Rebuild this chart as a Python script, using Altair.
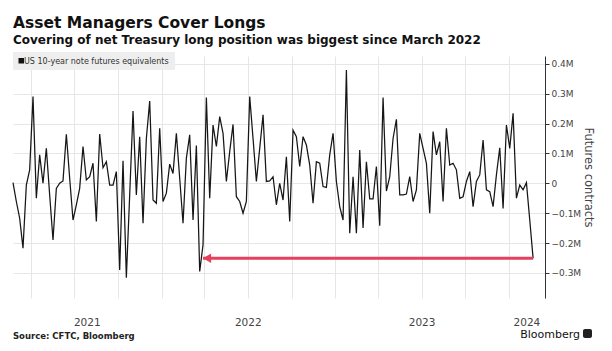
import altair as alt
import pandas as pd

# ---- data (thousands of contracts, weekly) ----
END_DATE = "2024-02-20"
values_k = [
    2, -61, -117, -217, -6, 45, 290, -50, 95, 0, 117, -39, -190, -17, 0, 8, 164, 17, -123, -72, -17, 123, 11, 22, 67, -128,
    165, 52, 72, -6, -6, 39, -290, 75, -316, -39, 242, -39, 156, -134, 150, 275, -56, -67, 184, -61, -33, 64, 33, 167, 17, -134,
    84, 162, -123, 126, -295, -206, 287, -50, 195, 123, 223, 167, 6, 106, 197, -45, -61, -100, -61, 290, 150, 6, 117, 229, 6, 8,
    22, -72, 0, -56, 89, -128, 178, 156, 56, 156, 128, 61, -67, 72, 67, -11, -14, 95, 167, 6, -78, -123, 379, -167, 22, -167,
    111, -150, 72, -52, -52, 56, -142, 287, -26, 22, 150, 214, -39, -39, -36, 22, -61, -22, 167, 117, 67, -100, 173, 95, 139, -61,
    184, 61, 67, 45, -50, -45, 6, 39, -78, 6, 28, 145, -22, -28, -78, 28, 119, -84, 195, 117, 234, -50, -6, -22, 2, -123, -251,
]
y_ticks = [-0.3, -0.2, -0.1, 0, 0.1, 0.2, 0.3, 0.4]
years = [2021, 2022, 2023, 2024]
title = "Asset Managers Cover Longs"
subtitle = "Covering of net Treasury long position was biggest since March 2022"
legend_label = "US 10-year note futures equivalents"
source = "Source: CFTC, Bloomberg"
arrow_start_index = 57  # week after the March 2022 low

dates = pd.date_range(end=END_DATE, periods=len(values_k), freq="7D")
df = pd.DataFrame({"date": dates.strftime("%Y-%m-%d"), "value": [v / 1000 for v in values_k]})

dom_start = pd.Timestamp("2021-02-23")
dom_end = pd.Timestamp("2024-03-16")

# year label centers within visible span
yl = []
for y in years:
    a = max(dom_start, pd.Timestamp(f"{y}-01-01"))
    b = min(dom_end, pd.Timestamp(f"{y+1}-01-01"))
    yl.append({"date": (a + (b - a) / 2).strftime("%Y-%m-%d"), "label": str(y)})
year_df = pd.DataFrame(yl)

arrow_df = pd.DataFrame({
    "date": [df["date"].iloc[arrow_start_index], df["date"].iloc[-1]],
    "value": [df["value"].iloc[-1]] * 2,
})
head_df = arrow_df.iloc[[0]]

quarters = [alt.DateTime(year=y, month=m, date=1, utc=True)
            for y in [2021, 2022, 2023, 2024] for m in [1, 4, 7, 10]
            if dom_start < pd.Timestamp(f"{y}-{m:02d}-01") < dom_end]

xscale = alt.Scale(type="utc",
                   domain=[alt.DateTime(year=2021, month=2, date=23, utc=True),
                           alt.DateTime(year=2024, month=3, date=16, utc=True)])
yscale = alt.Scale(domain=[-0.384, 0.426], nice=False, zero=False)

FONT = "DejaVu Sans"

x_enc = alt.X("date:T", scale=xscale,
              axis=alt.Axis(values=quarters, grid=True, gridColor="#e6e6e6", labels=False,
                            ticks=False, domain=False, title=None))
y_enc = alt.Y("value:Q", scale=yscale,
              axis=alt.Axis(orient="right", values=y_ticks, grid=True, gridColor="#e6e6e6",
                            domain=True, domainColor="#333333", tickColor="#333333", tickSize=4,
                            labelFontSize=9, labelColor="#444444", labelFont=FONT, labelPadding=2,
                            labelExpr="datum.value == 0 ? '0' : format(datum.value, '.1f') + 'M'",
                            title="Futures contracts", titleFontSize=11.5, titleFont=FONT,
                            titleFontWeight="normal", titleColor="#444444", titleAngle=90,
                            titlePadding=2))

line = alt.Chart(df).mark_line(color="#161616", strokeWidth=1.25).encode(x=x_enc, y=y_enc)

arrow = alt.Chart(arrow_df).mark_line(color="#e5405e", strokeWidth=3).encode(x=x_enc, y=y_enc)
head = alt.Chart(head_df).mark_point(shape="triangle-left", filled=True, color="#e5405e",
                                     size=90, opacity=1, xOffset=4).encode(x=x_enc, y=y_enc)

year_text = alt.Chart(year_df).mark_text(fontSize=10.5, font=FONT, color="#444444",
                                         align="center", baseline="alphabetic").encode(
    x=x_enc,
    y=alt.value(269.5),
    text="label:N",
)

one = pd.DataFrame({"k": [0]})
base = alt.Chart(one)

legend_box = base.mark_rect(color="#eeeeee").encode(
    x=alt.value(0), x2=alt.value(162), y=alt.value(-4), y2=alt.value(14))
legend_sq = base.mark_rect(color="#111111").encode(
    x=alt.value(5.5), x2=alt.value(11), y=alt.value(2), y2=alt.value(7.5))
legend_txt = base.mark_text(fontSize=8, font=FONT, color="#333333", align="left",
                            baseline="alphabetic").encode(
    x=alt.value(11), y=alt.value(8), text=alt.value(legend_label))

title_txt = base.mark_text(fontSize=15.5, font=FONT, fontWeight="bold", color="#111111",
                           align="left", baseline="alphabetic").encode(
    x=alt.value(0), y=alt.value(-28), text=alt.value(title))
sub_txt = base.mark_text(fontSize=12, font=FONT, fontWeight="bold", color="#111111",
                         align="left", baseline="alphabetic").encode(
    x=alt.value(0), y=alt.value(-12), text=alt.value(subtitle))
src_txt = base.mark_text(fontSize=8.5, font=FONT, fontWeight="bold", color="#222222",
                         align="left", baseline="alphabetic").encode(
    x=alt.value(0), y=alt.value(283), text=alt.value(source))
bb_txt = base.mark_text(fontSize=11, font=FONT, color="#111111", align="right",
                        baseline="alphabetic").encode(
    x=alt.value(567), y=alt.value(281.5), text=alt.value("Bloomberg"))
bb_icon = base.mark_rect(color="#222222", cornerRadius=2).encode(
    x=alt.value(570), x2=alt.value(579), y=alt.value(273), y2=alt.value(282))

chart = alt.layer(
    line, arrow, head, year_text, legend_box, legend_sq, legend_txt,
    title_txt, sub_txt, src_txt, bb_txt, bb_icon,
).properties(
    width=532, height=242,
    autosize=alt.AutoSizeParams(type="none"),
    padding={"left": 13, "top": 56, "right": 67, "bottom": 53},
    background="white",
).configure_view(stroke="transparent")

chart.save("out.html", embed_options={"renderer": "svg", "actions": False})
